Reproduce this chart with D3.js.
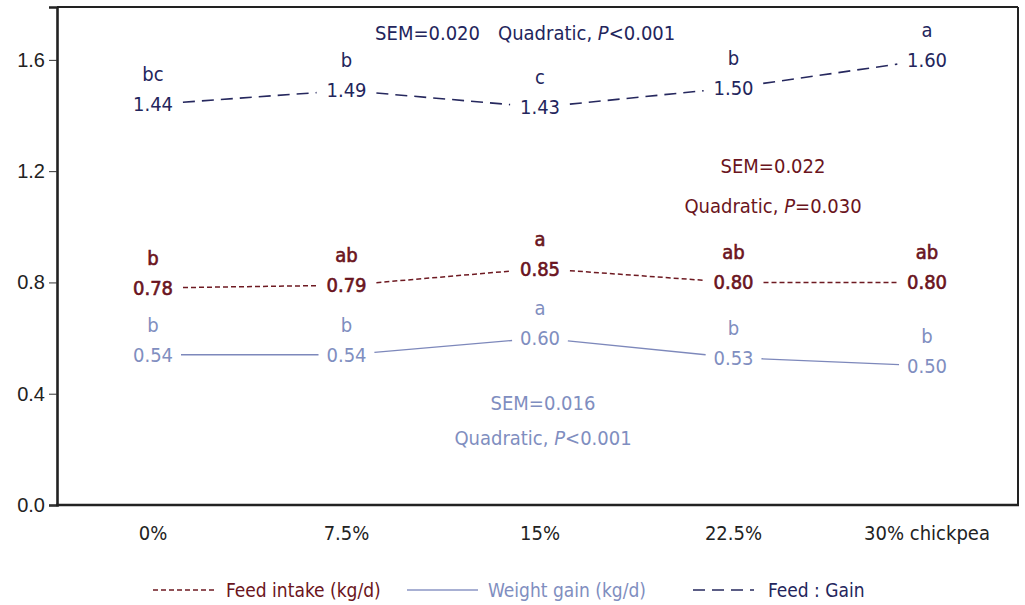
<!DOCTYPE html>
<html><head><meta charset="utf-8">
<script src="https://cdn.jsdelivr.net/npm/d3@7"></script>
<style>
body{margin:0;background:#fff;}
svg{display:block;}
.cond{font-family:'Liberation Sans Narrow','DejaVu Sans Condensed',sans-serif;font-stretch:condensed;}
</style></head>
<body><svg id="c" width="1025" height="605"></svg>
<script>
const categories = ["0%", "7.5%", "15%", "22.5%", "30% chickpea"];
const feedGain = [1.44, 1.49, 1.43, 1.50, 1.60];
const feedGainLetters = ["bc", "b", "c", "b", "a"];
const feedIntake = [0.78, 0.79, 0.85, 0.80, 0.80];
const feedIntakeLetters = ["b", "ab", "a", "ab", "ab"];
const weightGain = [0.54, 0.54, 0.60, 0.53, 0.50];
const weightGainLetters = ["b", "b", "a", "b", "b"];
const yTicks = [0.0, 0.4, 0.8, 1.2, 1.6];
const legendLabels = ["Feed intake (kg/d)", "Weight gain (kg/d)", "Feed : Gain"];

const svg = d3.select("#c");
const L = 57, R = 1018, T = 7, B = 505;
const x = d3.scalePoint().domain(categories).range([153, 927]);
const y = d3.scaleLinear().domain([0, 1.79]).range([B, T]);

// frame
svg.append("line").attr("x1", L).attr("x2", R).attr("y1", T).attr("y2", T).attr("stroke", "#222").attr("stroke-width", 2);
svg.append("line").attr("x1", R).attr("x2", R).attr("y1", T).attr("y2", B).attr("stroke", "#222").attr("stroke-width", 2);

// y axis
const yAxis = svg.append("g").attr("transform", `translate(${L},0)`)
  .call(d3.axisLeft(y).tickValues(yTicks).tickFormat(d3.format(".1f")).tickSize(8).tickPadding(4));
yAxis.attr("font-size", null).attr("font-family", null);
yAxis.select(".domain").attr("stroke", "#222").attr("stroke-width", 2.6);
yAxis.selectAll(".tick line").attr("stroke", "#333").attr("stroke-width", 1);
yAxis.selectAll(".tick text").style("font-family", "'Liberation Sans', Arial, sans-serif").style("font-size", "20px").attr("fill", "#222");

// x axis baseline
svg.append("line").attr("x1", L - 1).attr("x2", R + 1).attr("y1", B).attr("y2", B).attr("stroke", "#222").attr("stroke-width", 2.6);
svg.append("g").selectAll("text").data(categories).join("text")
  .attr("class", "cond").attr("x", d => x(d)).attr("y", 533).attr("dy", "0.35em")
  .attr("text-anchor", "middle").attr("font-size", 20).attr("fill", "#222").text(d => d);

const series = [
  {vals: feedGain, letters: feedGainLetters, color: "#26285e", textColor: "#23255c", dash: "12,7", width: 1.6, off: 30, bold: 0},
  {vals: feedIntake, letters: feedIntakeLetters, color: "#6e1a22", textColor: "#6a1420", dash: "5,3", width: 1.5, off: 30, bold: 0.6},
  {vals: weightGain, letters: weightGainLetters, color: "#7d88bb", textColor: "#7f8ec0", dash: null, width: 1.3, off: 28, bold: 0}
];

const line = d3.line();
series.forEach(s => {
  const g = svg.append("g");
  const pts = s.vals.map((v, i) => [x(categories[i]), y(v)]);
  const segs = d3.pairs(pts).map(([a, b]) => {
    const dx = b[0] - a[0], dy = b[1] - a[1], len = Math.hypot(dx, dy);
    const ux = dx / len, uy = dy / len;
    return [[a[0] + ux * s.off, a[1] + uy * s.off], [b[0] - ux * s.off, b[1] - uy * s.off]];
  });
  g.selectAll("path").data(segs).join("path")
    .attr("d", line).attr("fill", "none").attr("stroke", s.color)
    .attr("stroke-width", s.width).attr("stroke-dasharray", s.dash);
  g.selectAll("text.v").data(s.vals).join("text").attr("class", "v cond")
    .attr("x", (d, i) => x(categories[i])).attr("y", d => y(d)).attr("dy", "0.35em")
    .attr("text-anchor", "middle").attr("font-size", 20)
    .attr("fill", s.textColor).attr("stroke", s.bold ? s.textColor : null).attr("stroke-width", s.bold || null)
    .text(d => d.toFixed(2));
  g.selectAll("text.l").data(s.letters).join("text").attr("class", "l cond")
    .attr("x", (d, i) => x(categories[i])).attr("y", (d, i) => y(s.vals[i]) - 30).attr("dy", "0.35em")
    .attr("text-anchor", "middle").attr("font-size", 20)
    .attr("fill", s.textColor).attr("stroke", s.bold ? s.textColor : null).attr("stroke-width", s.bold || null)
    .text(d => d);
});

// annotations
function txt(xp, yp, s, color, anchor) {
  return svg.append("text").attr("class", "cond").attr("x", xp).attr("y", yp).attr("dy", "0.35em")
    .attr("text-anchor", anchor || "middle").attr("font-size", 20).attr("fill", color).text(s);
}
function quad(xp, yp, op, val, color, anchor) {
  const t = svg.append("text").attr("class", "cond").attr("x", xp).attr("y", yp).attr("dy", "0.35em")
    .attr("text-anchor", anchor || "middle").attr("font-size", 20).attr("fill", color);
  t.append("tspan").text("Quadratic, ");
  t.append("tspan").attr("font-style", "italic").text("P");
  t.append("tspan").text(op + val);
}
txt(480, 33, "SEM=0.020", "#23255c", "end");
quad(498, 33, "<", "0.001", "#23255c", "start");
txt(773, 166, "SEM=0.022", "#6a1420");
quad(773, 206, "=", "0.030", "#6a1420");
txt(543, 403, "SEM=0.016", "#7f8ec0");
quad(543, 438, "<", "0.001", "#7f8ec0");

// legend
const lg = svg.append("g");
const legendItems = [
  {x1: 153, x2: 215, tx: 226, color: "#6e1a22", tc: "#6a1420", dash: "5,3", w: 1.5},
  {x1: 407, x2: 478, tx: 488, color: "#8b96c4", tc: "#7f8ec0", dash: null, w: 1.3},
  {x1: 693, x2: 754, tx: 768, color: "#26285e", tc: "#23255c", dash: "12,7", w: 1.6}
];
legendItems.forEach((d, i) => {
  lg.append("line").attr("x1", d.x1).attr("x2", d.x2).attr("y1", 590).attr("y2", 590)
    .attr("stroke", d.color).attr("stroke-width", d.w).attr("stroke-dasharray", d.dash);
  lg.append("text").attr("class", "cond").attr("x", d.tx).attr("y", 590).attr("dy", "0.35em")
    .attr("font-size", 19).attr("fill", d.tc).text(legendLabels[i]);
});
</script></body></html>
